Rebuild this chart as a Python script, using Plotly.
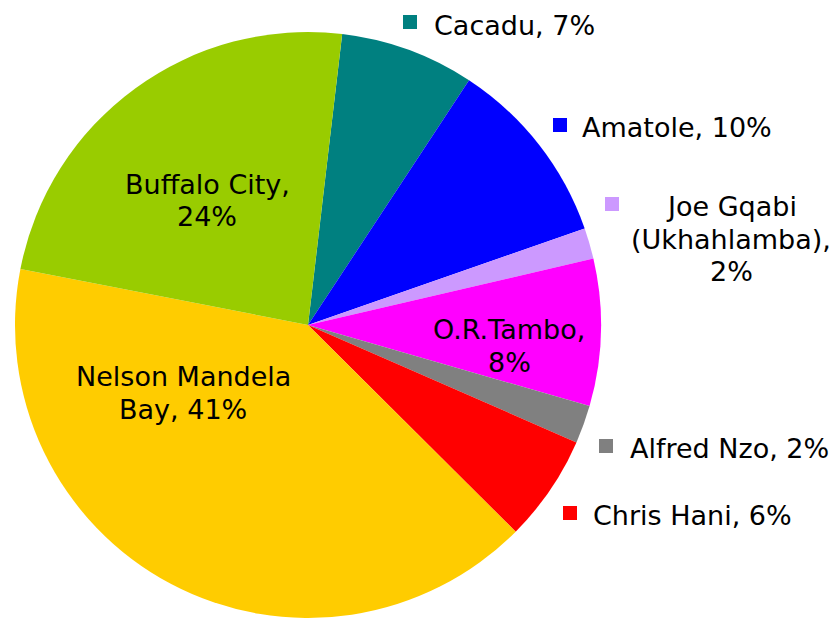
import plotly.graph_objects as go

# Share of the Eastern Cape total by district / metro (percent)
districts = ["Cacadu", "Amatole", "Joe Gqabi\n(Ukhahlamba)", "O.R.Tambo",
             "Alfred Nzo", "Chris Hani", "Nelson Mandela\nBay", "Buffalo City"]
shares = [7.4, 10.4, 1.7, 8.1, 2.1, 5.9, 40.6, 23.8]
colors = ["#008080", "#0000FF", "#CC99FF", "#FF00FF",
          "#808080", "#FF0000", "#FFCC00", "#99CC00"]
# how the percentage is joined onto each name
joiners = [", ", ", ", ",\n", ",\n", ", ", ", ", ", ", ",\n"]

W, H = 834, 618
FONT = "DejaVu Sans"
FSIZE = 27
LINE_PITCH = 32.5

total = sum(shares)
pcts = [int(v / total * 100 + 0.5) for v in shares]
label_lines = [(name + j + f"{p}%").split("\n")
               for name, j, p in zip(districts, joiners, pcts)]

# label placement in pixels: (key square x/y or None, text x, cap top, anchor)
placement = [
    ((403, 15), 432, 14, "left"),
    ((553, 118), 580, 116, "left"),
    ((605, 197), 731, 195, "center"),
    (None, 509, 318, "center"),
    ((599, 439), 628, 437, "left"),
    ((563, 506), 591, 504, "left"),
    (None, 183, 365, "center"),
    (None, 207, 173, "center"),
]


def px_x(x):
    return x / W


def px_y(y):
    return 1 - y / H


fig = go.Figure(go.Pie(
    labels=[d.replace("\n", " ") for d in districts],
    values=shares,
    marker=dict(colors=colors, line=dict(width=0)),
    sort=False,
    direction="clockwise",
    rotation=6.7,
    textinfo="none",
    hoverinfo="label+percent",
    domain=dict(x=[15 / W, 601 / W], y=[0, 1 - 32 / H]),
    showlegend=False,
))

annotations = []
shapes = []
KEY = 14
CAP_OFFSET = 6
for lines, (key, tx, cap_top, anchor), col in zip(label_lines, placement, colors):
    if key is not None:
        kx, ky = key
        shapes.append(dict(type="rect", xref="paper", yref="paper",
                           x0=px_x(kx), x1=px_x(kx + KEY),
                           y0=px_y(ky + KEY), y1=px_y(ky),
                           fillcolor=col, line=dict(width=0)))
    for i, line in enumerate(lines):
        annotations.append(dict(
            text=line, xref="paper", yref="paper",
            x=px_x(tx), y=px_y(cap_top - CAP_OFFSET + i * LINE_PITCH),
            xanchor=anchor, yanchor="top", showarrow=False,
            font=dict(family=FONT, size=FSIZE, color="#000000"),
        ))

fig.update_layout(
    width=W, height=H,
    margin=dict(l=0, r=0, t=0, b=0),
    paper_bgcolor="white",
    plot_bgcolor="white",
    annotations=annotations,
    shapes=shapes,
)

fig.write_html("out.html")
